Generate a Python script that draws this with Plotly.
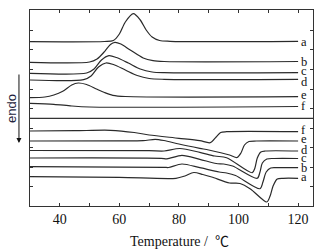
import plotly.graph_objects as go

# ---- Data (heat flow, plotted endo-down; arbitrary units) ----
# Upper panel: cooling (crystallisation) curves
cool_a_T = [30, 55, 58, 60, 62, 64.7, 67, 69, 71, 73.5, 77, 120]
cool_a_v = [41.7, 41.5, 40.5, 34, 22, 13.7, 20, 30, 37, 40.5, 41.3, 41.3]
cool_b_T = [30, 50, 52.5, 55.1, 57, 58.5, 60.5, 63.5, 68, 71.3, 75, 120]
cool_b_v = [62.3, 62, 59, 51.3, 44.5, 42.3, 44, 49.7, 58, 60.7, 61.5, 61.5]
cool_c_T = [30, 49, 51.5, 54, 56.5, 59, 63, 67, 71, 75, 120]
cool_c_v = [73.3, 73, 69, 60, 55.7, 57.5, 63, 69, 72, 72.7, 72.7]
cool_d_T = [30, 48, 50.5, 53, 55.5, 58, 62, 66, 70, 75, 120]
cool_d_v = [80, 79.7, 76, 67, 63, 64.5, 70, 75.5, 78.5, 79.3, 79.3]
cool_e_T = [30, 35, 38, 41, 44, 46.2, 49, 52.3, 55, 57.8, 62, 120]
cool_e_v = [97.7, 97, 95, 91.3, 85, 83, 84.5, 89, 92.5, 95.3, 96.5, 96.7]
cool_f_T = [30, 38, 44, 50, 120]
cool_f_v = [103.3, 104.3, 106, 107, 106.5]

# Lower panel: heating (melting) curves
heat_a_T = [30, 60, 79, 82, 85, 88, 91, 97, 100.5, 104, 109.5, 110.6, 111.6, 113, 115, 120]
heat_a_v = [176.7, 177.3, 178.3, 176, 172.5, 174.5, 177, 183, 183.5, 189, 202, 196, 186, 179, 178.3, 178.3]
heat_b_T = [30, 75, 76.5, 81, 87, 93.5, 96, 99, 107.2, 108.2, 109.3, 110.8, 113, 120]
heat_b_v = [166.7, 167.3, 167.5, 164, 167.7, 172, 173, 175.5, 188.7, 182, 172, 168, 167.7, 167.7]
heat_c_T = [30, 74, 76, 81, 87, 92.5, 95, 98, 106.3, 107.2, 108, 109.5, 112, 120]
heat_c_v = [158, 158.3, 158.8, 155.3, 159.3, 163.5, 164, 166, 178.3, 172, 163, 159, 158.5, 158.5]
heat_d_T = [30, 70, 75, 80.3, 87, 92, 96, 104.6, 105.5, 106.3, 107.5, 109, 120]
heat_d_v = [150.5, 150.7, 151, 148.5, 152.3, 156, 157.7, 172.7, 168, 158, 152, 151, 151]
heat_e_T = [30, 60, 68, 72, 75, 80, 87, 90, 97, 99.5, 100.8, 102, 103.5, 106, 120]
heat_e_v = [141, 140.8, 140.7, 139.3, 140.5, 144, 148.3, 150, 155, 157.5, 153, 145, 141.5, 141, 141]
heat_f_T = [30, 45, 57, 65, 70, 80, 87, 90.5, 92.5, 94, 96, 120]
heat_f_v = [131, 130.7, 130.3, 132.5, 135, 138.3, 140.7, 142.7, 137, 132.5, 131.7, 131.7]

curve_labels = ["a", "b", "c", "d", "e", "f"]
cool_label_y = [41.7, 62, 71, 81.7, 95, 106]
heat_label_y = [177, 167.7, 158, 150, 139, 130]
panel_divider = 118.3

x_tickvals = [40, 50, 60, 70, 80, 90, 100, 110, 120]
x_ticktext = ["40", "", "60", "", "80", "", "100", "", "120"]
y_tickvals = [30, 49.5, 69, 89, 108.5, 128, 147.5, 167, 186.7]

LINE = "#2a2a2a"
SERIF = "Liberation Serif, Noto Sans CJK SC, serif"

fig = go.Figure()
series = [
    (cool_a_T, cool_a_v), (cool_b_T, cool_b_v), (cool_c_T, cool_c_v),
    (cool_d_T, cool_d_v), (cool_e_T, cool_e_v), (cool_f_T, cool_f_v),
    (heat_a_T, heat_a_v), (heat_b_T, heat_b_v), (heat_c_T, heat_c_v),
    (heat_d_T, heat_d_v), (heat_e_T, heat_e_v), (heat_f_T, heat_f_v),
]
for T, v in series:
    fig.add_trace(go.Scatter(x=T, y=v, mode="lines",
                             line=dict(color=LINE, width=1.2, shape="spline", smoothing=0.8),
                             showlegend=False, hoverinfo="skip"))

annotations = []
for lab, yv in zip(curve_labels, cool_label_y):
    annotations.append(dict(x=120.4, y=yv, xref="x", yref="y", text=lab, showarrow=False,
                            xanchor="left", yanchor="middle",
                            font=dict(family=SERIF, size=12.5, color="#111")))
for lab, yv in zip(curve_labels, heat_label_y):
    annotations.append(dict(x=120.4, y=yv, xref="x", yref="y", text=lab, showarrow=False,
                            xanchor="left", yanchor="middle",
                            font=dict(family=SERIF, size=12.5, color="#111")))

# endo arrow and label
annotations.append(dict(x=-0.039, y=143, xref="paper", yref="y", ax=0, ay=73,
                        axref="pixel", ayref="y", text="", showarrow=True,
                        arrowhead=2, arrowsize=1, arrowwidth=1, arrowcolor="#111"))
annotations.append(dict(x=-0.067, y=109, xref="paper", yref="y", text="endo", textangle=-90,
                        xanchor="center", yanchor="middle",
                        showarrow=False, font=dict(family="Liberation Sans, sans-serif", size=13, color="#1e1e3c")))
# x title
annotations.append(dict(x=0.53, y=-0.18, xref="paper", yref="paper", text="Temperature /  ℃",
                        showarrow=False, xanchor="center", yanchor="middle",
                        font=dict(family=SERIF, size=14, color="#111")))

fig.update_layout(
    width=330, height=252,
    margin=dict(l=30, r=17, t=10, b=46),
    paper_bgcolor="white", plot_bgcolor="white",
    annotations=annotations,
    shapes=[dict(type="line", xref="paper", yref="y", x0=0, x1=1, y0=panel_divider, y1=panel_divider,
                 line=dict(color="#333", width=1.2))],
    xaxis=dict(range=[30, 125], tickvals=x_tickvals, ticktext=x_ticktext,
               ticks="inside", ticklen=3, tickcolor="#333",
               showline=True, linecolor="#333", linewidth=1.2, mirror="ticks",
               showgrid=False, zeroline=False,
               tickfont=dict(family=SERIF, size=14, color="#111")),
    yaxis=dict(range=[206, 10], tickvals=y_tickvals, showticklabels=False,
               ticks="inside", ticklen=3, tickcolor="#333",
               showline=True, linecolor="#333", linewidth=1.2, mirror="ticks",
               showgrid=False, zeroline=False),
)

fig.write_html("out.html", config={"displayModeBar": False},
               post_script="document.body.style.margin='0';")
